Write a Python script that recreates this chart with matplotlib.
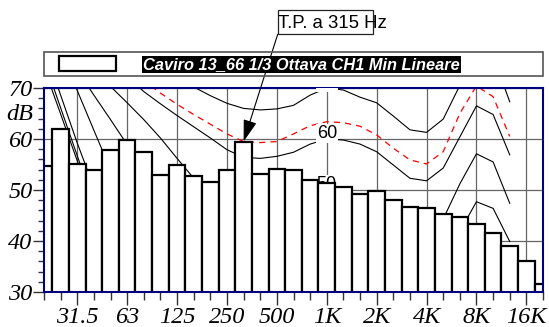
import matplotlib
matplotlib.use('Agg')
import matplotlib.pyplot as plt
import numpy as np
from matplotlib.patches import Rectangle
from matplotlib.ticker import FixedLocator, MultipleLocator

# bande 1/3 ottava, 20 Hz .. 20 kHz
bands = ['20', '25', '31.5', '40', '50', '63', '80', '100', '125', '160', '200', '250',
         '315', '400', '500', '630', '800', '1K', '1.25K', '1.6K', '2K', '2.5K', '3.15K',
         '4K', '5K', '6.3K', '8K', '10K', '12.5K', '16K', '20K']
levels = [54.7, 62.0, 55.1, 54.0, 57.9, 59.8, 57.4, 52.9, 54.9, 52.8, 51.6, 54.0,
          59.5, 53.1, 54.2, 54.0, 52.0, 51.3, 50.5, 49.3, 49.8, 48.0, 46.7,
          46.5, 45.2, 44.8, 43.3, 41.6, 39.1, 36.1, 31.6]
octave_labels = ['31.5', '63', '125', '250', '500', '1K', '2K', '4K', '8K', '16K']
series_name = 'Caviro 13_66 1/3 Ottava CH1 Min Lineare'
tp_band = '315'
tp_text = 'T.P. a 315 Hz'

# curve isofoniche, 20 Hz .. 12.5 kHz
phon_levels = [0, 10, 20, 30, 40, 50, 60, 70]
phon_0 = [74.0, 64.9, 55.7, 46.5, 39.0, 32.0, 26.0, 21.0, 17.0, 13.0, 10.0, 8.0, 6.0,
          4.5, 3.5, 3.0, 3.0, 3.0, 3.5, 2.0, 0.0, -2.0, -3.5, -3.5, -1.0, 5.0, 12.0,
          13.5, 10.0]
phon_10 = [75.5, 66.1, 56.7, 47.5, 40.0, 33.5, 28.0, 23.5, 20.0, 17.0, 14.5, 12.5, 11.0,
           10.0, 9.5, 9.5, 9.8, 10.0, 10.5, 9.0, 7.0, 5.0, 3.5, 3.5, 6.0, 12.0, 19.0,
           21.0, 18.0]
phon_20 = [78.0, 68.6, 59.2, 50.5, 44.0, 38.5, 34.0, 30.5, 27.5, 25.0, 23.0, 21.5, 20.5,
           19.8, 19.5, 19.5, 19.8, 20.0, 20.5, 19.0, 17.0, 15.0, 13.0, 13.0, 15.5, 21.5,
           28.0, 30.0, 26.5]
phon_30 = [85.0, 77.3, 69.5, 61.7, 54.0, 48.0, 43.0, 39.5, 36.5, 34.0, 32.5, 31.0, 30.0,
           29.5, 29.3, 29.3, 29.6, 30.0, 30.2, 29.0, 27.0, 25.0, 23.0, 22.5, 25.0, 31.0,
           37.5, 38.0, 33.0]
phon_40 = [83.0, 78.3, 73.5, 68.6, 63.8, 58.9, 54.5, 50.5, 47.5, 45.0, 43.0, 41.5, 40.5,
           39.8, 39.5, 39.4, 39.6, 40.0, 40.0, 39.0, 37.3, 35.0, 32.5, 32.0, 34.5, 41.9,
           47.7, 46.4, 39.9]
phon_50 = [85.0, 81.0, 77.0, 73.5, 70.3, 67.1, 63.8, 60.2, 56.2, 52.3, 50.2, 48.3, 47.0,
           46.3, 46.5, 47.3, 48.8, 50.0, 49.8, 49.0, 47.5, 45.0, 42.5, 42.0, 44.3, 51.2,
           57.1, 55.5, 47.4]
phon_60 = [90.0, 86.0, 82.5, 79.0, 75.5, 72.2, 69.3, 66.9, 64.6, 62.4, 60.2, 57.9, 56.4,
           56.2, 56.6, 57.4, 59.0, 60.0, 59.8, 59.0, 57.5, 54.9, 52.3, 51.8, 54.3, 60.4,
           66.5, 64.8, 56.9]
phon_70 = [95.0, 92.0, 89.0, 86.0, 83.0, 80.0, 77.5, 75.0, 72.5, 70.2, 68.5, 67.0, 66.0,
           65.7, 65.9, 66.6, 68.6, 70.0, 69.6, 68.2, 67.1, 64.5, 61.8, 61.3, 63.9, 70.5,
           76.5, 76.3, 67.3]
# isofonica che passa per il tono puro
phon_tp = [92.0, 88.0, 84.5, 81.0, 77.5, 74.5, 71.5, 69.0, 66.8, 64.8, 62.9, 61.0, 59.5,
           59.3, 59.5, 61.0, 62.6, 63.4, 63.2, 62.5, 60.8, 58.2, 55.9, 55.1, 57.5, 65.0,
           70.4, 68.3, 60.5]
curves = [phon_0, phon_10, phon_20, phon_30, phon_40, phon_50, phon_60, phon_70]

W, H = 549, 327
serif = dict(family='Liberation Serif', style='italic', size=17.5)

fig = plt.figure(figsize=(W / 100, H / 100), dpi=100)
ax = fig.add_axes([44 / W, 35 / H, 499 / W, 204 / H])
ax.set_axisbelow(True)

x = np.arange(len(bands))
x_iso = np.arange(len(phon_60))
k1 = bands.index('1K')

for ph, c in zip(phon_levels, curves):
    ax.plot(x_iso, c, color='black', lw=0.8, zorder=1)
    # etichette solo dove la curva a 1 kHz resta sopra le barre
    if ph + 1.1 > levels[k1] - 2:
        ax.text(k1, ph + 1.1, str(ph), ha='center', va='center',
                family='Liberation Sans', size=13, zorder=2.1, clip_on=True,
                bbox=dict(boxstyle='square,pad=0.05', fc='white', ec='none'))
ax.plot(x_iso, phon_tp, color='red', lw=0.9, ls=(0, (5, 4)), zorder=1.1)

bars = ax.bar(x, levels, width=1.0, color='white', edgecolor='black', lw=1.6,
              zorder=2.2, label=series_name)

ax.set_xlim(0, len(bands) - 1)
ax.set_ylim(30, 70)

oct_idx = [bands.index(b) for b in octave_labels]
ax.xaxis.set_major_locator(FixedLocator(oct_idx))
ax.xaxis.set_minor_locator(FixedLocator([i for i in x if i not in oct_idx]))
ax.set_xticklabels(octave_labels, fontdict=serif)
ax.set_yticks([30, 40, 50, 60, 70])
ax.set_yticklabels(['30', '40', '50', '60', '70'], fontdict=serif)
ax.yaxis.set_minor_locator(MultipleLocator(2))
ax.tick_params(axis='x', which='major', length=9.5, width=1, color='#333', pad=1.5)
ax.tick_params(axis='x', which='minor', length=5.5, width=1, color='#333')
ax.tick_params(axis='y', which='major', length=8, width=1, color='#333', pad=0.3)
ax.tick_params(axis='y', which='minor', length=4.3, width=1, color='#333')

ax.grid(True, which='major', color='#666', lw=0.9)

for name, sp in ax.spines.items():
    sp.set_color('#000080')
    sp.set_linewidth(1.5)
    sp.set_zorder(3)
ax.spines['top'].set_zorder(2.05)

ax.annotate('dB', xy=(0, 64.8), xycoords=('axes fraction', 'data'),
            xytext=(-11, 0), textcoords='offset pixels', ha='right', va='center',
            **serif)

# freccia sul tono puro
ax.annotate('', xy=(bands.index(tp_band), levels[bands.index(tp_band)]), xycoords='data',
            xytext=(277.7 / W, 1 - 34.3 / H), textcoords='figure fraction',
            arrowprops=dict(arrowstyle='-|>,head_length=1.35,head_width=0.42',
                            color='black', lw=0.8, shrinkA=0, shrinkB=0),
            zorder=4)
fig.patches.append(Rectangle((277.7 / W, 1 - 34.3 / H), 95.6 / W, 24.3 / H,
                             transform=fig.transFigure, fc='white', ec='#222', lw=0.9))
fig.text(278.5 / W, 1 - 28.5 / H, tp_text, family='Liberation Sans',
         size=13.4, va='baseline', ha='left')

# riquadro della legenda
fig.patches.append(Rectangle((44 / W, 1 - 76 / H), 499 / W, 24 / H,
                             transform=fig.transFigure, fill=False, ec='#555', lw=1.2))
leg = ax.legend(handles=[bars], labels=[series_name], loc='center left',
                bbox_to_anchor=(58.7 / W, 1 - 64.0 / H), bbox_transform=fig.transFigure,
                frameon=False, borderpad=0, borderaxespad=0,
                handlelength=3.49, handleheight=1.04, handletextpad=1.66,
                prop=dict(family='Liberation Sans', weight='bold', style='italic', size=11.8))
for t in leg.get_texts():
    t.set_color('white')
    t.set_bbox(dict(boxstyle='square,pad=0.08', fc='black', ec='none'))

fig.savefig('out.png', dpi=100, facecolor='white')
